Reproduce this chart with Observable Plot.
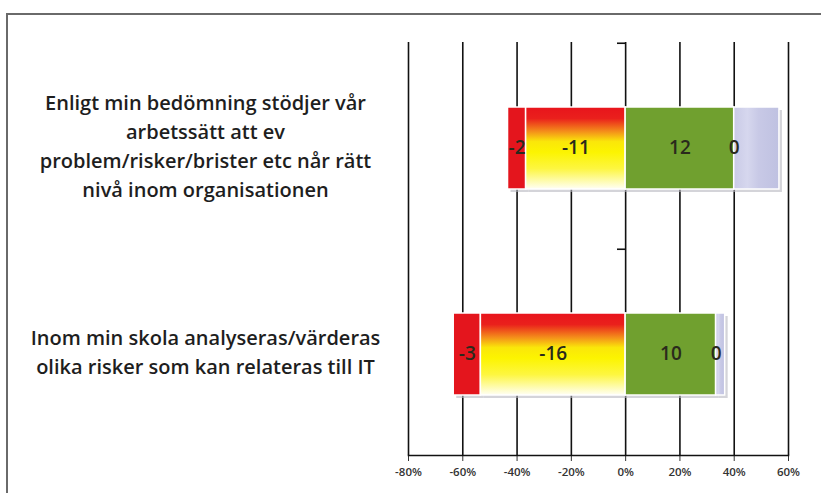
<!DOCTYPE html>
<html><head><meta charset="utf-8">
<script src="https://cdn.jsdelivr.net/npm/d3@7"></script>
<script src="https://cdn.jsdelivr.net/npm/@observablehq/plot@0.6"></script>
<style>
html,body{margin:0;padding:0;background:#fff;}
#wrap{position:relative;width:821px;height:493px;overflow:hidden;background:#fff;}
#border{position:absolute;left:6px;top:13px;width:830px;height:500px;border:2px solid #6a6a6a;box-sizing:border-box;}
#chart{position:absolute;left:0;top:0;}
</style></head><body>
<div id="wrap"><div id="border"></div><div id="chart"></div></div>
<script>
// ---- data ----
const categories = [
  "Enligt min bedömning stödjer vår\narbetssätt att ev\nproblem/risker/brister etc når rätt\nnivå inom organisationen",
  "Inom min skola analyseras/värderas\nolika risker som kan relateras till IT"
];
const seriesKeys = ["s1", "s2", "s3", "s4", "s5"]; // red, yellow, green, zero-label, grey
const s1 = [-2, -3];   // red
const s2 = [-11, -16]; // yellow
const s3 = [12, 10];   // green
const s4 = [0, 0];     // labelled 0
const s5 = [5, 1];     // grey (no label)
const xTicks = [-0.8, -0.6, -0.4, -0.2, 0, 0.2, 0.4, 0.6];

// ---- styles ----
const fills = {s1: "#e4151d", s2: "url(#gYellow)", s3: "#70a02f", s4: "#4e7a1e", s5: "url(#gGrey)"};
const stackOrder = ["s2", "s1", "s3", "s4", "s5"];

const seriesValues = {s1, s2, s3, s4, s5};
const rows = [];
categories.forEach((cat, i) => {
  const total = seriesKeys.reduce((a, k) => a + Math.abs(seriesValues[k][i]), 0);
  seriesKeys.forEach(k => {
    rows.push({cat, series: k, value: seriesValues[k][i], pct: seriesValues[k][i] / total});
  });
});
const labelRows = rows.filter(d => d.series !== "s5");

const W = 821, H = 493, mT = 42, mB = 38, mL = 408, mR = 33;
const step = (H - mT - mB) / categories.length;
const inset = {insetTop: 64, insetBottom: 60};

const plot = Plot.plot({
  width: W, height: H,
  marginTop: mT, marginBottom: mB, marginLeft: mL, marginRight: mR,
  style: {fontFamily: "'Open Sans', sans-serif", fontSize: "11.5px", fontWeight: 600, color: "#333", background: "transparent"},
  x: {domain: [-0.8, 0.6], ticks: xTicks, tickFormat: d => `${Math.round(d * 100)}%`, tickSize: 6, tickPadding: 6, label: null},
  y: {domain: categories, axis: null, padding: 0},
  color: {type: "identity"},
  marks: [
    Plot.gridX(xTicks, {stroke: "#111", strokeOpacity: 1, strokeWidth: 1.6}),
    Plot.frame({anchor: "bottom", stroke: "#111", strokeWidth: 1.6}),
    Plot.ruleY(categories, {y: d => d, x1: -0.03, x2: 0, dy: -step / 2, stroke: "#111", strokeWidth: 1.6}),
    Plot.barX(rows, Plot.stackX({y: "cat", x: "pct", z: "series", order: stackOrder, fill: "#b8b8c0", fillOpacity: 0.6, dx: 3, dy: 3, ...inset})),
    Plot.barX(rows, Plot.stackX({y: "cat", x: "pct", z: "series", order: stackOrder, fill: d => fills[d.series], stroke: "white", strokeWidth: 1.5, ...inset})),
    Plot.text(labelRows, Plot.stackX({y: "cat", x: "pct", z: "series", order: stackOrder, text: d => `${d.value}`, fontSize: 19, fontWeight: 600, fill: "#2a2a1c", dy: 1})),
    Plot.text(categories, {y: d => d, text: d => d, frameAnchor: "left", dx: -203, dy: -2, textAnchor: "middle", fontSize: 20, fontWeight: 600, lineHeight: 1.45, fill: "#1e1e1e"})
  ]
});

const svg = d3.select(plot);
const defs = svg.insert("defs", ":first-child");
const gy = defs.append("linearGradient").attr("id", "gYellow").attr("x1", 0).attr("y1", 0).attr("x2", 0).attr("y2", 1);
[[0, "#e8141c"], [0.14, "#ea201c"], [0.3, "#f4901a"], [0.42, "#fae60a"], [0.55, "#fcf400"], [0.75, "#fdf640"], [1, "#fffff5"]]
  .forEach(([o, c]) => gy.append("stop").attr("offset", o).attr("stop-color", c));
const gg = defs.append("linearGradient").attr("id", "gGrey").attr("x1", 0).attr("y1", 0).attr("x2", 1).attr("y2", 0);
[[0, "#c9cae6"], [0.3, "#d6d7ee"], [0.55, "#c8c9e6"], [1, "#bfc1e1"]]
  .forEach(([o, c]) => gg.append("stop").attr("offset", o).attr("stop-color", c));

document.getElementById("chart").appendChild(plot);
</script>
</body></html>
